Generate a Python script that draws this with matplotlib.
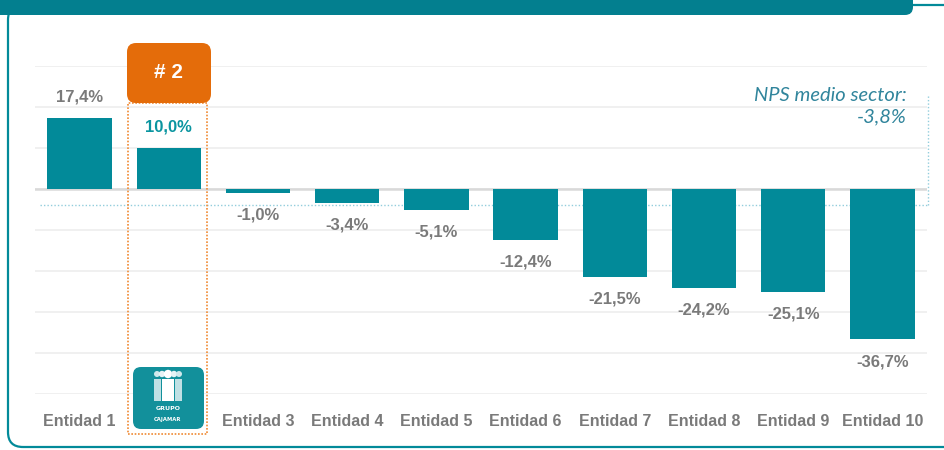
import numpy as np
import matplotlib
matplotlib.use("Agg")
import matplotlib.pyplot as plt
from matplotlib.patches import FancyBboxPatch, Rectangle, Circle

# datos del grafico
entidades = ["Entidad 1", "Entidad 2", "Entidad 3", "Entidad 4", "Entidad 5",
             "Entidad 6", "Entidad 7", "Entidad 8", "Entidad 9", "Entidad 10"]
nps = [17.4, 10.0, -1.0, -3.4, -5.1, -12.4, -21.5, -24.2, -25.1, -36.7]
nps_medio = -3.8
destacada = 1  # Entidad 2 (Grupo Cajamar)

teal = "#028a99"
cabecera = "#037f8f"
gris = "#7a7a7a"
naranja = "#e46c0a"
fuente = ["Liberation Sans", "DejaVu Sans"]

fig = plt.figure(figsize=(9.44, 4.5), dpi=100)
W, H = 944, 450

def px(x, y):
    # pixeles (origen arriba-izquierda) -> pulgadas de la figura
    return x / 100.0, (H - y) / 100.0

T = fig.dpi_scale_trans

# marco redondeado y cabecera
x0, y0 = px(8, 447)
marco = FancyBboxPatch((x0, y0), 10.0, 4.42, boxstyle="round,pad=0,rounding_size=0.15",
                       transform=T, fc="none", ec=teal, lw=1.6, clip_on=False)
fig.patches.append(marco)
x0, y0 = px(-20, 15)
cab = FancyBboxPatch((x0, y0), 9.33, 0.4, boxstyle="round,pad=0,rounding_size=0.08",
                     transform=T, fc=cabecera, ec="none", clip_on=False)
fig.patches.append(cab)

ax = fig.add_axes([35 / W, 56 / H, 892 / W, 328 / H])
x = np.arange(len(entidades))
ax.bar(x, nps, width=0.72, color=teal, zorder=3)
ax.set_xlim(-0.5, 9.5)
ax.set_ylim(-50, 30)
ax.set_yticks(np.arange(-50, 31, 10))
ax.yaxis.grid(True, color="#eeeeee", lw=1.2, zorder=0)
ax.axhline(0, color="#d9d9d9", lw=1.8, zorder=2)
ax.tick_params(axis="y", left=False, labelleft=False)
ax.tick_params(axis="x", bottom=False, pad=11)
for s in ax.spines.values():
    s.set_visible(False)
ax.set_xticks(x)
etiquetas = [e if i != destacada else "" for i, e in enumerate(entidades)]
ax.set_xticklabels(etiquetas, family=fuente, fontweight="bold", fontsize=11.5, color=gris)

for i, v in enumerate(nps):
    txt = f"{v:.1f}".replace(".", ",") + "%"
    off = 15 if v >= 0 else -16
    col = "#0a95a0" if i == destacada else gris
    ax.annotate(txt, (i, v), xytext=(0, off), textcoords="offset points",
                ha="center", va="center", family=fuente, fontweight="bold",
                fontsize=12, color=col, zorder=4)

# linea de NPS medio del sector
ax.plot([-0.444, 9.51], [nps_medio, nps_medio], ls=(0, (1, 1.5)), color="#92cddc",
        lw=1, clip_on=False, zorder=2)
ax.plot([9.51, 9.51], [nps_medio, 22.9], ls=(0, (1, 1.5)), color="#92cddc",
        lw=1, clip_on=False, zorder=2)
ax.text(9.27, 20.3, "NPS medio sector:\n-3,8%", ha="right", va="center",
        fontstyle="italic", family=["Lato", "DejaVu Sans"], fontsize=14.5,
        color="#31859c", linespacing=1.3)

# recuadro punteado de la entidad destacada
x0, y0 = px(128, 434)
fig.patches.append(Rectangle((x0, y0), 0.79, 3.31, transform=T, fc="none",
                             ec="#f08a34", lw=1.2, ls=(0, (1, 1))))

# etiqueta naranja "# 2"
x0, y0 = px(127, 103)
fig.patches.append(FancyBboxPatch((x0, y0), 0.84, 0.60, transform=T,
                                  boxstyle="round,pad=0,rounding_size=0.09",
                                  fc=naranja, ec="none"))
fig.text(169 / W, (H - 73) / H, "# 2", ha="center", va="center", color="white",
         fontsize=15, fontweight="bold", family=["Liberation Sans", "DejaVu Sans"])

# logo simplificado
x0, y0 = px(133, 429)
fig.patches.append(FancyBboxPatch((x0, y0), 0.71, 0.62, transform=T,
                                  boxstyle="round,pad=0,rounding_size=0.08",
                                  fc="#12909b", ec="none"))
for cx, r, c in [(157, 3, "#cfe8eb"), (162, 3.2, "#e6f3f5"), (168, 4.2, "white"),
                 (174, 3.2, "#e6f3f5"), (179, 3, "#cfe8eb")]:
    fig.patches.append(Circle(px(cx, 374), r / 100.0, transform=T, fc=c, ec="none"))
for xa, xb, c in [(154, 161, "#bfe0e4"), (162, 174, "white"), (175, 182, "#bfe0e4")]:
    bx, by = px(xa, 401)
    fig.patches.append(Rectangle((bx, by), (xb - xa) / 100.0, 0.22, transform=T,
                                 fc=c, ec="none"))
fig.text(168 / W, (H - 408) / H, "GRUPO", ha="center", va="center", color="white",
         fontsize=4.5, fontweight="bold")
fig.text(168 / W, (H - 420) / H, "CAJAMAR", ha="center", va="center", color="white",
         fontsize=3.8, fontweight="bold")

fig.savefig("out.png", dpi=100)
